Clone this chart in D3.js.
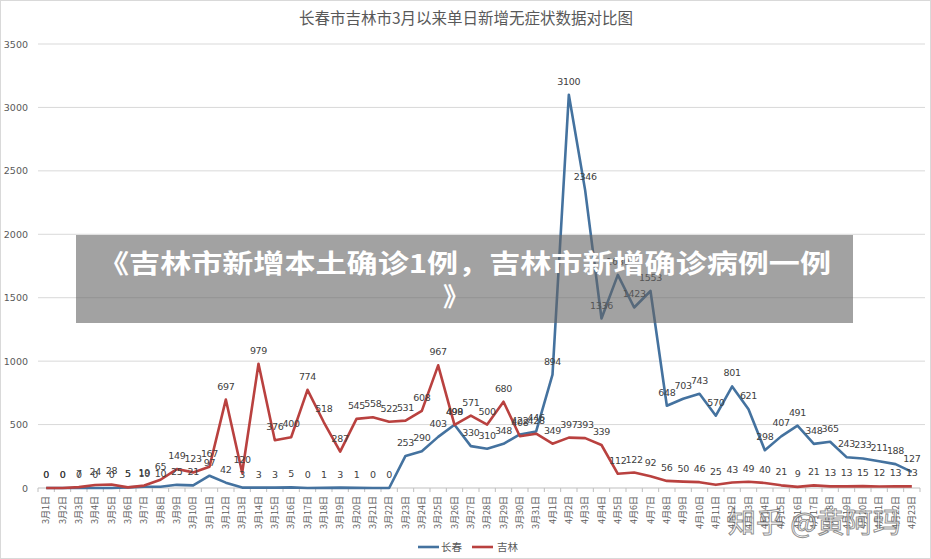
<!DOCTYPE html>
<html><head><meta charset="utf-8">
<script src="https://cdn.jsdelivr.net/npm/d3@7/dist/d3.min.js"></script>
<style>
html,body{margin:0;padding:0;background:#fff;}
svg{display:block;font-family:"Noto Sans CJK SC","DejaVu Sans",sans-serif;}
</style></head>
<body>
<script>
const title = "长春市吉林市3月以来单日新增无症状数据对比图";
const dates = [];
for (let d = 1; d <= 31; d++) dates.push("3月" + d + "日");
for (let d = 1; d <= 23; d++) dates.push("4月" + d + "日");
const changchun = [0,0,0,0,0,5,10,10,25,21,97,42,3,3,3,5,0,1,3,1,0,0,253,290,403,499,330,310,348,422,446,894,3100,2346,1336,1680,1423,1553,648,703,743,570,801,621,298,407,491,348,365,243,233,211,188,127];
const jilin = [0,0,7,24,28,5,19,65,149,123,167,697,120,979,376,400,774,518,287,545,558,522,531,608,967,498,571,500,680,408,428,349,397,393,339,112,122,92,56,50,46,25,43,49,40,21,9,21,13,13,15,12,13,13];
const yTicks = [0,500,1000,1500,2000,2500,3000,3500];
const seriesNames = ["长春","吉林"];
const colors = ["#44729f","#b9413f"];
const bannerLines = ["《吉林市新增本土确诊1例，吉林市新增确诊病例一例","》"];
const watermark = "知乎 @黄阿玛";

const W = 931, H = 559;
const svg = d3.select("body").append("svg").attr("width", W).attr("height", H);
svg.append("rect").attr("x",0.5).attr("y",0.5).attr("width",W-1).attr("height",H-1)
  .attr("fill","#fff").attr("stroke","#d9d9d9");

const x = d3.scalePoint().domain(dates).range([38, 920]).padding(0.5);
const y = d3.scaleLinear().domain([0, 3500]).range([488, 44]);

svg.append("text").attr("x", 466).attr("y", 24).attr("text-anchor","middle")
  .attr("font-size", 15.5).attr("fill","#595959").text(title);

// gridlines
svg.append("g").selectAll("line").data(yTicks.filter(t=>t>0)).join("line")
  .attr("x1",38).attr("x2",925).attr("y1",d=>y(d)).attr("y2",d=>y(d))
  .attr("stroke","#d9d9d9").attr("stroke-width",1);

// y axis labels
const yAxis = d3.axisLeft(y).tickValues(yTicks).tickFormat(d3.format("d")).tickSize(0).tickPadding(10);
const gy = svg.append("g").attr("transform","translate(38,0)").call(yAxis);
gy.select(".domain").remove();
gy.selectAll("text").attr("font-size",9.5).attr("fill","#595959").attr("font-family","'DejaVu Sans',sans-serif");

// x axis
const gx = svg.append("g").attr("transform","translate(0,488)");
gx.append("line").attr("x1",38).attr("x2",920).attr("stroke","#bfbfbf");
const step = x.step();
gx.selectAll("line.tk").data(d3.range(dates.length+1)).join("line").attr("class","tk")
  .attr("x1",i=>38+i*step).attr("x2",i=>38+i*step).attr("y1",0).attr("y2",4).attr("stroke","#bfbfbf");
gx.selectAll("text").data(dates).join("text")
  .attr("transform",d=>`translate(${x(d)+3},8) rotate(-90)`)
  .attr("text-anchor","end").attr("font-size",9).attr("fill","#595959").text(d=>d);

// lines
const line = d3.line().x((d,i)=>x(dates[i])).y(d=>y(d));
[changchun, jilin].forEach((s,k)=>{
  svg.append("path").datum(s).attr("d",line).attr("fill","none")
    .attr("stroke",colors[k]).attr("stroke-width",2.6).attr("stroke-linejoin","round");
});
// data labels
[jilin, changchun].forEach(s=>{
  svg.append("g").selectAll("text").data(s).join("text")
    .attr("x",(d,i)=>x(dates[i])).attr("y",d=>y(d)-10)
    .attr("text-anchor","middle").attr("font-size",9.5).attr("fill","#404040")
    .attr("font-family","'DejaVu Sans',sans-serif").attr("letter-spacing",-0.3)
    .text(d=>d);
});

// legend
const lg = svg.append("g");
[[418,441],[472,497]].forEach((p,k)=>{
  lg.append("line").attr("x1",p[0]).attr("x2",p[0]+21).attr("y1",547).attr("y2",547)
    .attr("stroke",colors[k]).attr("stroke-width",2.6);
  lg.append("text").attr("x",p[1]).attr("y",551).attr("font-size",10.5).attr("fill","#595959").text(seriesNames[k]);
});

// overlay banner
svg.append("rect").attr("x",76).attr("y",235).attr("width",777).attr("height",88)
  .attr("fill","#646464").attr("opacity",0.6);
svg.append("text").attr("x",98).attr("y",273).attr("font-size",26).attr("font-weight","bold")
  .attr("fill","#fff").attr("textLength",733).attr("lengthAdjust","spacingAndGlyphs").text(bannerLines[0]);
svg.append("text").attr("x",443).attr("y",306).attr("font-size",26).attr("font-weight","bold")
  .attr("fill","#fff").text(bannerLines[1]);

// watermark
svg.append("text").attr("x",728).attr("y",533).attr("font-size",28)
  .attr("fill","#fff").attr("fill-opacity",0.7).attr("stroke","#444").attr("stroke-opacity",0.6)
  .attr("stroke-width",1).text(watermark);
</script>
</body></html>
